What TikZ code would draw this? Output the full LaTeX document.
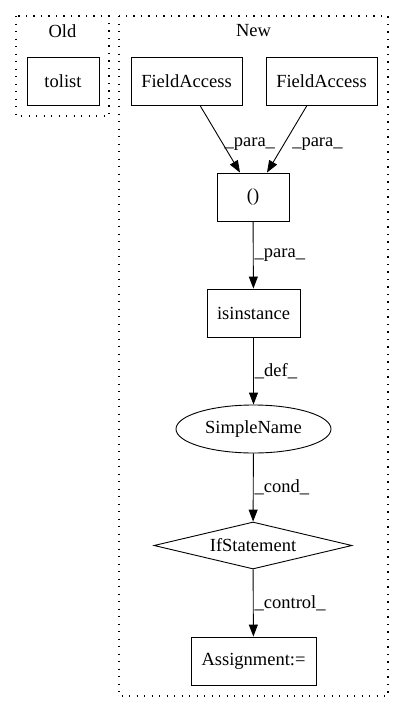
\documentclass[tikz,border=0pt]{standalone}
\usepackage{fontspec}
\setmainfont{Liberation Serif}
\usetikzlibrary{shapes.geometric,arrows.meta}

\def\boxHeight{48}

\tikzset{
    box/.style = {draw, line width=0.9pt, minimum height=\boxHeight pt, inner sep=0pt, font=\fontsize{18.5}{20}\selectfont},
    cluster/.style = {line width=1.1pt, dash pattern=on 1.1pt off 6.4pt},
    flow/.style = {line width=0.9pt, -{Triangle[length=12pt,width=9pt]}},
    tag/.style = {right, inner sep=1pt, font=\fontsize{18.5}{20}\selectfont},
}

\begin{document}
\begin{tikzpicture}[x=1pt, y=-1pt]
            \useasboundingbox (0,0) rectangle (404,712);
            % clusters
            \draw [cluster] (16,16) rectangle (109,116);
            \draw [cluster] (119,16) rectangle (388,696);
            \node [font=\fontsize{18.5}{20}\selectfont] (oldTitle) at (62.5,31) {Old};
            \node [font=\fontsize{18.5}{20}\selectfont] (newTitle) at (253.5,31) {New};
            % nodes
            \node [box, minimum width=72pt] (tolist) at (63,81) {tolist};
            \node [box, minimum width=111pt] (fieldA) at (186.5,81) {FieldAccess};
            \node [box, minimum width=111pt] (fieldB) at (321.5,81) {FieldAccess};
            \node [box, minimum width=72pt] (tuple) at (253,197) {()};
            \node [box, minimum width=93pt] (isinst) at (253.5,313) {isinstance};
            \node [box, ellipse, minimum width=155pt, minimum height=48pt] (simple) at (253.5,429) {SimpleName};
            \node [box, diamond, aspect=4.2, minimum width=198pt, minimum height=47pt] (ifstmt) at (253,545.5) {IfStatement};
            \node [box, minimum width=125pt] (assign) at (253.5,661) {Assignment:=};
            % edges
            \draw [flow] ([xshift=13.5pt]fieldA.south) -- node [tag, pos=0.58] {\_para\_} ([xshift=-13pt]tuple.north);
            \draw [flow] ([xshift=-14.5pt]fieldB.south) -- node [tag, pos=0.58, xshift=7pt] {\_para\_} ([xshift=14pt]tuple.north);
            \draw [flow] (tuple) -- node [tag] {\_para\_} (isinst);
            \draw [flow] (isinst) -- node [tag] {\_def\_} (simple);
            \draw [flow] (simple) -- node [tag] {\_cond\_} (ifstmt);
            \draw [flow] (ifstmt) -- node [tag] {\_control\_} (assign);
        \end{tikzpicture}
\end{document}
